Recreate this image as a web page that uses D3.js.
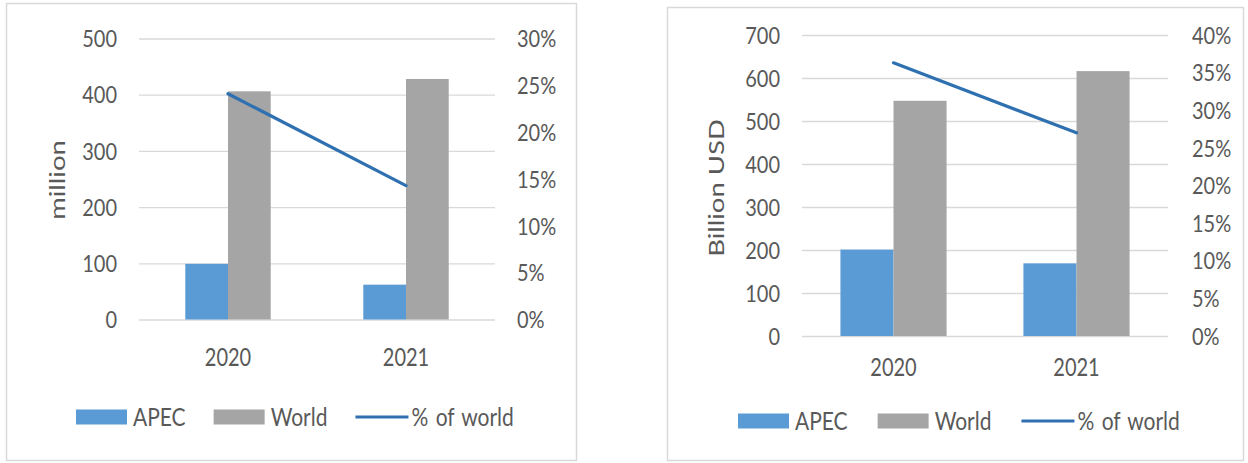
<!DOCTYPE html>
<html>
<head>
  <script src="https://d3js.org/d3.v7.min.js"></script>
</head>
<style>
body { margin: 0; background: #fff; }
text { font-family: Lato, "Open Sans", sans-serif; fill: #595959; }
.grid line { stroke: #d9d9d9; stroke-width: 1.3; }
.grid .domain { display: none; }
.ax .domain { display: none; }
.ax line { display: none; }
</style>
<body>
  <svg id="chart" width="1248" height="463"></svg>
</body>
<script>
  // categories
  var years = ["2020", "2021"];
  var seriesNames = ["APEC", "World", "% of world"];

  // left panel: visitors (million)
  var visitorsApec = [99, 62];
  var visitorsWorld = [406, 428];
  var visitorsShare = [0.241, 0.143];

  // right panel: receipts (billion USD)
  var receiptsApec = [201, 169];
  var receiptsWorld = [547, 616];
  var receiptsShare = [0.363, 0.270];

  var leftTicksA = [0, 100, 200, 300, 400, 500];
  var rightTicksA = [0, 0.05, 0.10, 0.15, 0.20, 0.25, 0.30];
  var leftTicksB = [0, 100, 200, 300, 400, 500, 600, 700];
  var rightTicksB = [0, 0.05, 0.10, 0.15, 0.20, 0.25, 0.30, 0.35, 0.40];

  var colApec = "#5b9bd5";
  var colWorld = "#a5a5a5";
  var colLine = "#2e70b0";

  // the source text is a bit taller than wide
  var stretch = 1.17;

  var svg = d3.select("#chart");

  function drawPanel(p) {
    var g = svg.append("g");

    // outer frame
    g.append("rect")
      .attr("x", p.box[0] + 0.5).attr("y", p.box[1] + 0.5)
      .attr("width", p.box[2]).attr("height", p.box[3])
      .attr("fill", "#fff").attr("stroke", "#d9d9d9").attr("stroke-width", 1.5);

    var x = d3.scaleBand().domain(years).range([p.x0, p.x1]);
    var y = d3.scaleLinear().domain([0, p.yMax]).range([p.yBot, p.yTop]);
    var y2 = d3.scaleLinear().domain([0, p.pMax]).range([p.yBot, p.yTop]);

    // gridlines
    g.append("g").attr("class", "grid")
      .attr("transform", "translate(" + p.x0 + ",0)")
      .call(d3.axisLeft(y).tickValues(p.ticks).tickSize(-(p.x1 - p.x0)).tickFormat(""));

    // left axis labels
    g.append("g").attr("class", "ax")
      .attr("transform", "translate(" + (p.x0 - 22) + ",0)")
      .call(d3.axisLeft(y).tickValues(p.ticks).tickSize(0).tickPadding(0))
      .selectAll("text").style("font-size", "20px").attr("dy", "0.35em")
      .attr("transform", "scale(1," + stretch + ")");

    // right axis labels
    g.append("g").attr("class", "ax")
      .attr("transform", "translate(" + (p.x1 + p.rPad) + ",0)")
      .call(d3.axisRight(y2).tickValues(p.pticks).tickSize(0).tickPadding(0).tickFormat(d3.format(".0%")))
      .selectAll("text").style("font-size", "20px").attr("dy", "0.35em")
      .attr("transform", "scale(1," + stretch + ")");

    // x axis labels
    g.append("g").attr("class", "ax")
      .attr("transform", "translate(0," + p.xLabY + ")")
      .call(d3.axisBottom(x).tickSize(0).tickPadding(0))
      .selectAll("text").style("font-size", "20px").attr("y", 0).attr("dy", "0.35em")
      .attr("transform", "scale(1," + (stretch + 0.05) + ")");

    // axis title
    g.append("text")
      .attr("transform", "translate(" + p.titleX + "," + p.titleY + ") rotate(-90) scale(" + (stretch + 0.08) + ",1)")
      .attr("text-anchor", "middle").attr("dy", "0.35em")
      .style("font-size", "22px")
      .text(p.title);

    var barW = x.bandwidth() * p.groupFrac / 2;
    var bars = [
      {vals: p.apec, color: colApec, off: -barW},
      {vals: p.world, color: colWorld, off: 0}
    ];
    bars.forEach(function(s) {
      g.selectAll(null).data(years).enter().append("rect")
        .attr("x", function(d) { return x(d) + x.bandwidth() / 2 + s.off; })
        .attr("y", function(d, i) { return y(s.vals[i]); })
        .attr("width", barW)
        .attr("height", function(d, i) { return y(0) - y(s.vals[i]); })
        .attr("fill", s.color);
    });

    var line = d3.line()
      .x(function(d, i) { return x(years[i]) + x.bandwidth() / 2; })
      .y(function(d) { return y2(d); });
    g.append("path").datum(p.share)
      .attr("d", line)
      .attr("fill", "none").attr("stroke", colLine).attr("stroke-width", 3.2)
      .attr("stroke-linecap", "round");

    // legend
    var lg = g.append("g").attr("transform", "translate(0," + p.legY + ")");
    var cx = p.legX;
    seriesNames.forEach(function(name, i) {
      if (i < 2) {
        lg.append("rect").attr("x", cx).attr("y", -7.5).attr("width", 51).attr("height", 15)
          .attr("fill", i === 0 ? colApec : colWorld);
      } else {
        lg.append("line").attr("x1", cx).attr("x2", cx + 53).attr("y1", 0).attr("y2", 0)
          .attr("stroke", colLine).attr("stroke-width", 3.2);
      }
      var tx = cx + (i < 2 ? 57 : 56);
      var t = lg.append("text")
        .attr("transform", "translate(" + tx + ",0) scale(1," + stretch + ")")
        .attr("dy", "0.35em")
        .style("font-size", "21px").style("word-spacing", "2px").text(name);
      cx = tx + t.node().getComputedTextLength() + p.legGap;
    });
  }

  drawPanel({
    box: [6, 3, 570, 457],
    x0: 139, x1: 495, yTop: 38.5, yBot: 319.5,
    yMax: 500, pMax: 0.30, ticks: leftTicksA, pticks: rightTicksA,
    rPad: 22, groupFrac: 0.48, xLabY: 357,
    apec: visitorsApec, world: visitorsWorld, share: visitorsShare,
    title: "million", titleX: 57, titleY: 180,
    legY: 417, legX: 76, legGap: 28
  });

  drawPanel({
    box: [667, 7, 576, 453],
    x0: 802, x1: 1168, yTop: 35, yBot: 336,
    yMax: 700, pMax: 0.40, ticks: leftTicksB, pticks: rightTicksB,
    rPad: 24, groupFrac: 0.58, xLabY: 367,
    apec: receiptsApec, world: receiptsWorld, share: receiptsShare,
    title: "Billion USD", titleX: 716, titleY: 188,
    legY: 421, legX: 738, legGap: 30
  });
</script>
</html>
